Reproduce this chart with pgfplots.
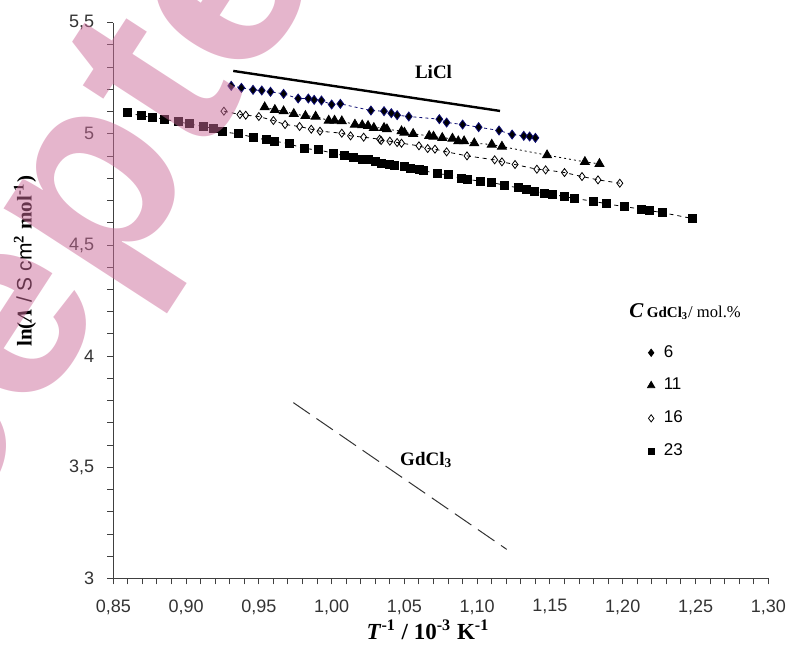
\documentclass[border=0pt]{standalone}
\usepackage{fontspec}
\setmainfont{Liberation Serif}
\setsansfont{Liberation Sans}
\usepackage{pgfplots}
\pgfplotsset{compat=1.18}
\pgfplotsset{legend image code/.code={\draw[#1] plot coordinates {(0pt,0pt)};}}
\definecolor{wm}{rgb}{0.8,0.42,0.6}
\definecolor{navy}{rgb}{0.05,0.05,0.45}
\begin{document}
\begin{tikzpicture}
\begin{axis}[
 scale only axis, width=327.5pt, height=277.9pt,
 xmin=0.85, xmax=1.30, ymin=3, ymax=5.5,
 axis lines=left, axis line style={-, black!75, line width=0.5pt},
 tick align=outside, tick pos=left,
 major tick length=3pt, minor tick length=3pt,
 every tick/.style={black!75, line width=0.5pt},
 xtick={0.85,0.90,0.95,1.00,1.05,1.10,1.15,1.20,1.25,1.30},
 xticklabels={{0,85},{0,90},{0,95},{1,00},{1,05},{1,10},{1,15},{1,20},{1,25},{1,30}},
 minor x tick num=4,
 ytick={3,3.5,4,4.5,5,5.5},
 yticklabels={3,{3,5},4,{4,5},5,{5,5}},
 minor y tick num=4,
 ticklabel style={font=\sffamily\fontsize{9}{10}\selectfont, text=black!80},
 xticklabel style={yshift=-4pt},
 yticklabel style={xshift=-3pt},
 clip=false,
 xlabel={\bfseries\textit{T}\textsuperscript{-1} / 10\textsuperscript{-3} K\textsuperscript{-1}},
 xlabel style={font=\fontsize{11.5}{12}\selectfont, at={(axis description cs:0.4805,-0.0927)}, anchor=center},
 legend style={at={(axis description cs:0.815,0.422)}, anchor=north west, draw=none, fill=none,
   font=\sffamily\fontsize{8.5}{9}\selectfont, row sep=8pt, inner sep=0pt,
   nodes={inner sep=0.5pt}},
 legend cell align=left,
 /tikz/every odd column/.append style={column sep=4pt},
]
% LiCl line
\addplot[black, line width=1.2pt, forget plot] coordinates {(0.9324,5.283) (1.1157,5.103)};
% GdCl3 line
\addplot[black!80, line width=0.5pt, dash pattern=on 10pt off 4pt, forget plot] coordinates {(0.9737,3.791) (1.1203,3.131)};
% 23 mol%
\addplot[black, line width=0.4pt, dash pattern=on 2pt off 2pt, mark=square*, mark size=2pt, mark options={solid, fill=black}, forget plot] coordinates {
(0.860,5.096) (0.869,5.081) (0.877,5.075) (0.885,5.066) (0.895,5.054) (0.902,5.045)
(0.912,5.033) (0.919,5.024) (0.925,5.009) (0.936,5.000) (0.946,4.985) (0.955,4.973)
(0.961,4.967) (0.971,4.955) (0.981,4.934) (0.991,4.928) (1.001,4.913) (1.009,4.901)
(1.015,4.892) (1.021,4.886) (1.025,4.883) (1.030,4.874) (1.034,4.868) (1.040,4.862)
(1.043,4.859) (1.050,4.853) (1.054,4.844) (1.060,4.838) (1.063,4.835) (1.073,4.820)
(1.080,4.817) (1.089,4.799) (1.093,4.796) (1.102,4.787) (1.110,4.781) (1.119,4.769)
(1.128,4.757) (1.134,4.748) (1.139,4.742) (1.146,4.733) (1.152,4.727) (1.160,4.718)
(1.167,4.709) (1.180,4.697) (1.189,4.685) (1.201,4.673) (1.213,4.661) (1.218,4.655)
(1.227,4.646) (1.248,4.619)};
% 16 mol%
\addplot[black, line width=0.4pt, dash pattern=on 2pt off 2pt, mark=diamond, mark size=2pt, mark options={solid, fill=white}, forget plot] coordinates {
(0.926,5.102) (0.937,5.087) (0.941,5.084) (0.950,5.078) (0.960,5.060) (0.968,5.042)
(0.978,5.033) (0.986,5.021) (0.992,5.012) (1.007,5.003) (1.013,4.991) (1.022,4.985)
(1.033,4.976) (1.034,4.970) (1.040,4.967) (1.045,4.961) (1.048,4.958) (1.060,4.946)
(1.066,4.934) (1.071,4.931) (1.079,4.919) (1.093,4.901) (1.112,4.883) (1.117,4.874)
(1.126,4.862) (1.141,4.841) (1.147,4.838) (1.160,4.826) (1.172,4.808) (1.183,4.793)
(1.198,4.778)};
% 11 mol%
\addplot[black, line width=0.4pt, dash pattern=on 1pt off 1.5pt, mark=triangle*, mark size=2.6pt, mark options={solid, fill=black}, forget plot] coordinates {
(0.954,5.120) (0.961,5.108) (0.967,5.102) (0.974,5.090) (0.982,5.081) (0.989,5.078)
(0.998,5.060) (1.002,5.060) (1.007,5.057) (1.016,5.042) (1.021,5.039) (1.025,5.036)
(1.029,5.027) (1.036,5.027) (1.038,5.021) (1.048,5.012) (1.050,5.006) (1.056,5.000)
(1.067,4.991) (1.070,4.988) (1.076,4.982) (1.083,4.979) (1.087,4.967) (1.091,4.967)
(1.098,4.958) (1.110,4.952) (1.117,4.943) (1.148,4.904) (1.174,4.874) (1.184,4.865)};
% 6 mol%
\addplot[navy, line width=0.4pt, dash pattern=on 1.5pt off 1.5pt, mark=diamond*, mark size=2.25pt, mark options={solid, fill=black, draw=navy}, forget plot] coordinates {
(0.931,5.216) (0.938,5.207) (0.946,5.198) (0.952,5.195) (0.958,5.189) (0.967,5.180)
(0.977,5.159) (0.984,5.159) (0.988,5.153) (0.993,5.150) (1.000,5.132) (1.006,5.135)
(1.027,5.105) (1.036,5.102) (1.041,5.093) (1.045,5.084) (1.053,5.078) (1.074,5.066)
(1.079,5.051) (1.090,5.042) (1.101,5.030) (1.115,5.015) (1.124,4.997) (1.132,4.991)
(1.136,4.988) (1.140,4.982)};
% legend
\addlegendimage{mark=diamond*, mark size=1.8pt, mark options={fill=black, draw=black}}
\addlegendentry{6}
\addlegendimage{mark=triangle*, mark size=2.1pt, mark options={fill=black, draw=black}}
\addlegendentry{11}
\addlegendimage{mark=diamond, mark size=1.8pt, mark options={fill=white, draw=black}}
\addlegendentry{16}
\addlegendimage{mark=square*, mark size=1.6pt, mark options={fill=black, draw=black}}
\addlegendentry{23}
% text labels
\node[font=\bfseries\fontsize{9.5}{10}\selectfont] at (axis cs:1.070,5.280) {LiCl};
\node[font=\bfseries\fontsize{9.5}{10}\selectfont] at (axis cs:1.065,3.533) {GdCl\textsubscript{3}};
\node[anchor=west, inner sep=0pt] at (axis cs:1.2043,4.200) {\fontsize{10.5}{12}\selectfont\bfseries\itshape C\,\upshape\fontsize{7.5}{8}\selectfont GdCl\textsubscript{3}\mdseries\fontsize{8.3}{10}\selectfont/ mol.\%};
\node[rotate=90, anchor=center, font=\fontsize{10.5}{12}\selectfont] at (axis description cs:-0.1348,0.571)
  {\bfseries ln(\textit{Λ} {\sffamily\mdseries / S cm}\textsuperscript{2} mol\textsuperscript{-1})};
\end{axis}
\node[rotate=57, anchor=base west, inner sep=0pt, text=wm, text opacity=0.5, font=\sffamily\bfseries\fontsize{132}{132}\selectfont] at (-1.2pt,139.3pt) {pted};
\node[rotate=57, anchor=base east, inner sep=0pt, text=wm, text opacity=0.5, font=\sffamily\bfseries\fontsize{132}{132}\selectfont] at (-1.2pt,139.3pt) {Acce};
\pgfresetboundingbox
\useasboundingbox (-56.65pt,-38.75pt) rectangle (336.35pt,289.25pt);
\end{tikzpicture}
\end{document}
